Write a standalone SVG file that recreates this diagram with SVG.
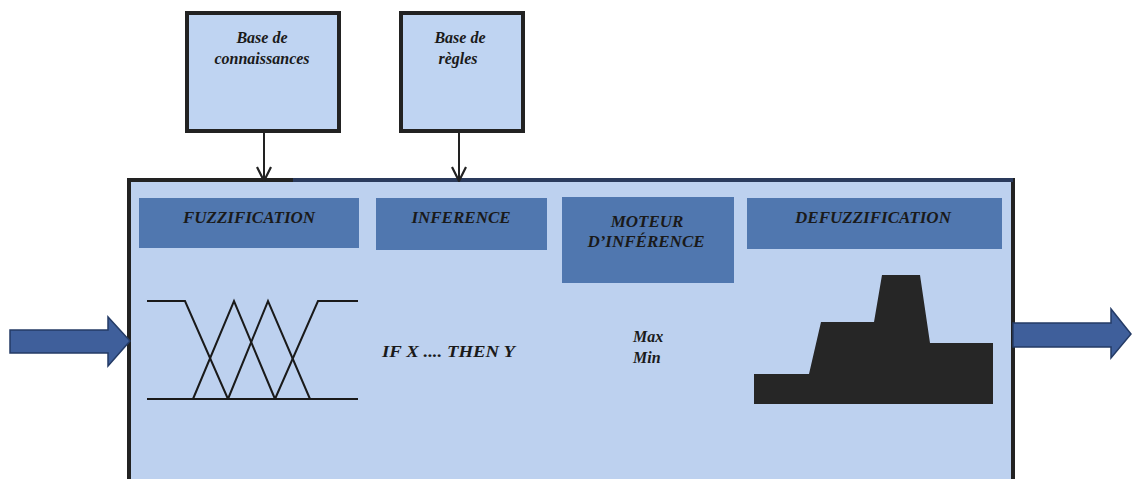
<svg xmlns="http://www.w3.org/2000/svg" width="1132" height="479" viewBox="0 0 1132 479">
  <defs>
    <style>
      .base { fill: #BFD4F2; stroke: #222222; stroke-width: 4; }
      .head { fill: #5077AF; }
      .lbl { font-family: "Liberation Serif", "Times New Roman", serif; font-style: italic; font-weight: bold; fill: #1A1A1A; }
      .hd { font-size: 17px; text-anchor: middle; }
      .kb { font-size: 16px; text-anchor: middle; }
      .link { stroke: #222222; stroke-width: 2; fill: none; }
      .fat { fill: #3F5F9B; stroke: #243B66; stroke-width: 1.5; }
      .mf { stroke: #1A1A1A; stroke-width: 2; fill: none; stroke-linejoin: miter; }
    </style>
    <marker id="vee" viewBox="0 0 16 16" refX="15" refY="8" markerWidth="16" markerHeight="16" markerUnits="userSpaceOnUse" orient="auto">
      <path d="M1,1 L15,8 L1,15" fill="none" stroke="#222222" stroke-width="2.2"/>
    </marker>
  </defs>

  <!-- main controller frame -->
  <g id="controller">
    <rect x="129" y="180" width="884" height="310" fill="#BDD1EF" stroke="#222222" stroke-width="4"/>
    <line x1="293" y1="180" x2="1013" y2="180" stroke="#2A3A5C" stroke-width="4"/>
    <line x1="1013" y1="182" x2="1013" y2="198" stroke="#222222" stroke-width="4"/>
  </g>

  <!-- knowledge base -->
  <g id="kb-connaissances">
    <rect class="base" x="187" y="13" width="152" height="118"/>
    <text class="lbl kb" x="262" y="43">Base de</text>
    <text class="lbl kb" x="262" y="64">connaissances</text>
  </g>

  <!-- rule base -->
  <g id="kb-regles">
    <rect class="base" x="401" y="13" width="122" height="118"/>
    <text class="lbl kb" x="460" y="43">Base de</text>
    <text class="lbl kb" x="458" y="64">règles</text>
  </g>

  <!-- stage headers -->
  <g id="fuzzification">
    <rect class="head" x="139" y="198" width="220" height="50"/>
    <text class="lbl hd" x="249" y="223">FUZZIFICATION</text>
  </g>
  <g id="inference">
    <rect class="head" x="376" y="198" width="171" height="52"/>
    <text class="lbl hd" x="461" y="223">INFERENCE</text>
  </g>
  <g id="moteur">
    <rect class="head" x="562" y="197" width="172" height="86"/>
    <text class="lbl hd" x="647" y="227">MOTEUR</text>
    <text class="lbl hd" x="646" y="247">D’INFÉRENCE</text>
  </g>
  <g id="defuzzification">
    <rect class="head" x="747" y="198" width="255" height="51"/>
    <text class="lbl hd" x="873" y="223">DEFUZZIFICATION</text>
  </g>

  <!-- membership functions -->
  <g id="membership">
    <line class="mf" x1="147" y1="399" x2="358" y2="399"/>
    <polyline class="mf" points="147,301 185,301 228,399"/>
    <polyline class="mf" points="193,399 234,301 275,399"/>
    <polyline class="mf" points="228,399 268,301 310,399"/>
    <polyline class="mf" points="275,399 318,301 358,301"/>
  </g>

  <!-- rule example -->
  <g id="rule">
    <text class="lbl" x="382" y="357" font-size="17" textLength="133" lengthAdjust="spacingAndGlyphs">IF X .... THEN Y</text>
  </g>

  <!-- operators -->
  <g id="operators">
    <text class="lbl" x="633" y="342" font-size="16">Max</text>
    <text class="lbl" x="633" y="363" font-size="16">Min</text>
  </g>

  <!-- aggregated output set -->
  <g id="output-set">
    <polygon fill="#262626" points="754,404 754,374 809,374 821,322 874,322 882,275 920,275 930,343 993,343 993,404"/>
  </g>

  <!-- connectors -->
  <g id="connectors">
    <line class="link" x1="264" y1="133" x2="264" y2="181" marker-end="url(#vee)"/>
    <line class="link" x1="459" y1="133" x2="459" y2="181" marker-end="url(#vee)"/>
    <polygon class="fat" points="10,330 108,330 108,317 130,341 108,366 108,353 10,353"/>
    <polygon class="fat" points="1013,323 1111,323 1111,309 1131,334 1111,358 1111,347 1013,347"/>
  </g>
</svg>
